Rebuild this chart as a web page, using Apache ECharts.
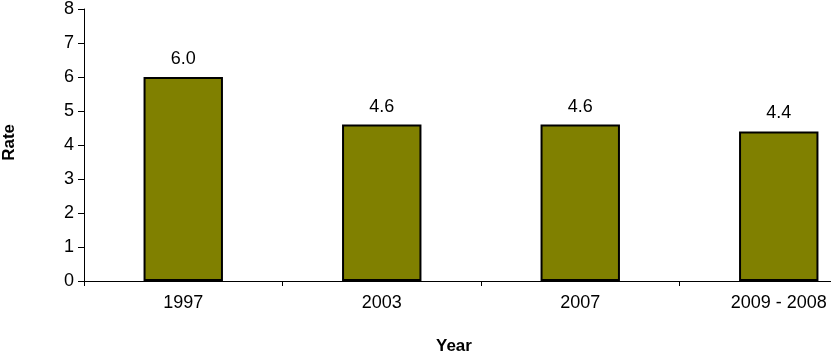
<!DOCTYPE html>
<html>
<head>
<meta charset="utf-8">
<script src="https://cdn.jsdelivr.net/npm/echarts@6/dist/echarts.min.js"></script>
<style>
  html, body { margin: 0; padding: 0; background: #fff; overflow: hidden; }
  #wrap { width: 831px; height: 355px; overflow: hidden; }
  /* the original plot runs past the right edge, so draw wider and crop */
  #main { width: 880px; height: 355px; }
</style>
</head>
<body>
<div id="wrap"><div id="main"></div></div>
<script>
// data
const years = ['1997', '2003', '2007', '2009 - 2008']
const rates = [6.0, 4.6, 4.6, 4.4]
const yTicks = { min: 0, max: 8, interval: 1 }

const font = 'Liberation Sans, Arial, sans-serif'
const chart = echarts.init(document.getElementById('main'), null, { renderer: 'canvas' })

const option = {
  animation: false,
  backgroundColor: '#fff',
  grid: {
    left: 84,
    right: 2,
    top: 7,
    bottom: 74,
    containLabel: false,
  },
  xAxis: {
    type: 'category',
    data: years,
    boundaryGap: true,
    axisLine: { lineStyle: { color: '#000', width: 1 } },
    axisTick: { show: true, length: 5, lineStyle: { color: '#000' } },
    axisLabel: { color: '#000', fontSize: 18, fontFamily: font, margin: 13 },
  },
  yAxis: {
    type: 'value',
    min: yTicks.min,
    max: yTicks.max,
    interval: yTicks.interval,
    splitLine: { show: false },
    axisLine: { show: true, lineStyle: { color: '#000', width: 1 } },
    axisTick: { show: true, length: 6, lineStyle: { color: '#000' } },
    axisLabel: { color: '#000', fontSize: 18, fontFamily: font, margin: 10 },
  },
  graphic: [
    {
      type: 'text',
      left: 1,
      top: 124,
      rotation: Math.PI / 2,
      style: { text: 'Rate', font: 'bold 17px ' + font, fill: '#000' },
    },
    {
      type: 'text',
      left: 436,
      top: 338,
      style: { text: 'Year', font: 'bold 17px ' + font, fill: '#000' },
    },
  ],
  series: [
    {
      type: 'bar',
      data: rates,
      barWidth: '40%',
      itemStyle: { color: '#808000', borderColor: '#000', borderWidth: 2 },
      label: {
        show: true,
        position: 'top',
        distance: 9,
        color: '#000',
        fontSize: 18,
        fontFamily: font,
        formatter: (p) => p.value.toFixed(1),
      },
    },
  ],
}

chart.setOption(option)
</script>
</body>
</html>
